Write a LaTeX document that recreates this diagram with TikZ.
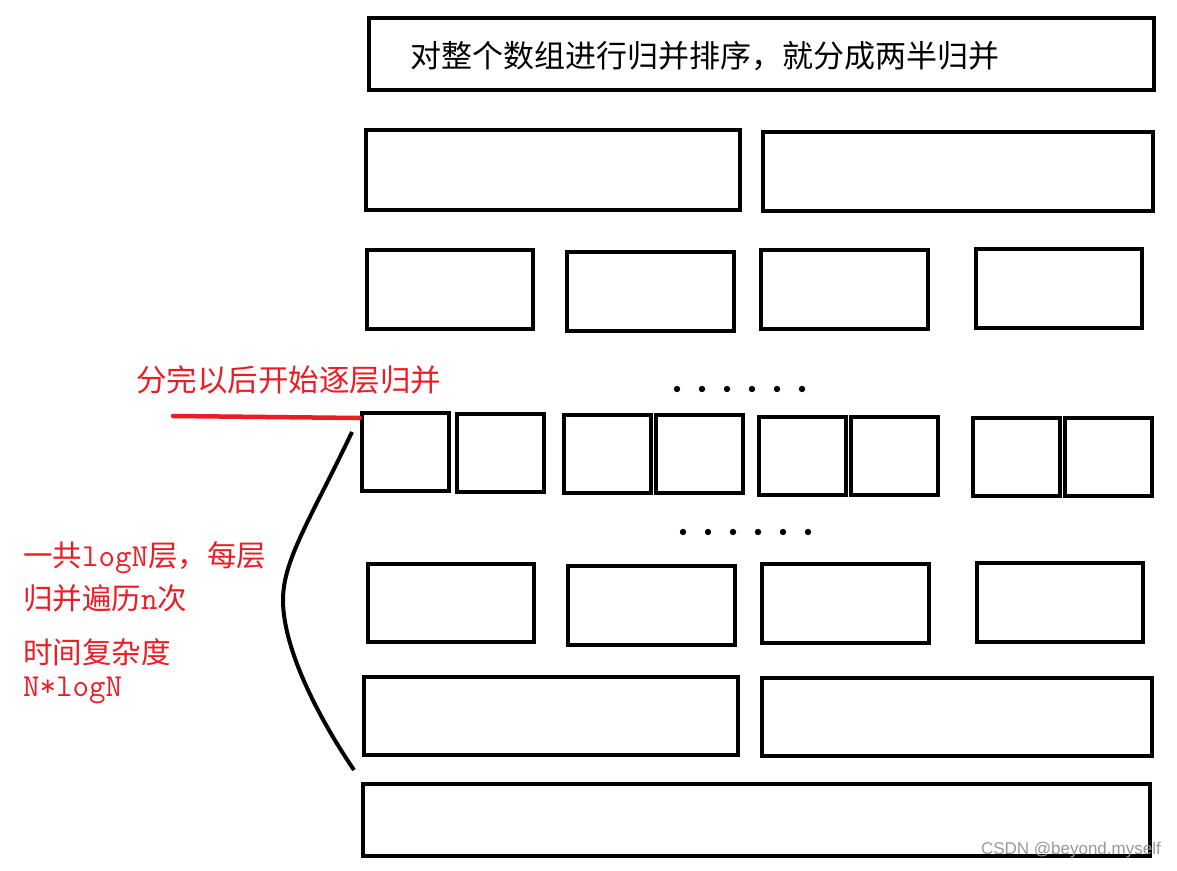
\documentclass[tikz,border=0pt]{standalone}
\usepackage{fontspec}
\newfontfamily\cjk{Noto Sans CJK SC}
\newfontfamily\markfont{Liberation Sans}
\usetikzlibrary{fit}
\definecolor{paintred}{RGB}{237,28,36}
\newcommand{\latmono}{\ttfamily\fontsize{32}{36}\selectfont}

\tikzset{
  box/.style={draw=black, line width=4pt, inner sep=0pt},
  note/.style={text=paintred, anchor=west, inner sep=0pt, font=\cjk\fontsize{29.5}{34}\selectfont},
}

\begin{document}
\begin{tikzpicture}[x=1pt,y=-1pt]
                \useasboundingbox[fill=white] (0,0) rectangle (1177,870);
                % whole array
                \node[box, fit={(369,18) (1154,90)}] (all) {};
                \node[anchor=west, inner sep=0pt, font=\cjk\fontsize{31}{36}\selectfont]
                    (title) at (410,56) {对整个数组进行归并排序，就分成两半归并};
                % halves
                \node[box, fit={(366,130) (740,210)}] (h1) {};
                \node[box, fit={(763,132) (1153,211)}] (h2) {};
                % quarters
                \node[box, fit={(367,250) (533,329)}] (q1) {};
                \node[box, fit={(567,252) (734,331)}] (q2) {};
                \node[box, fit={(761,250) (928,329)}] (q3) {};
                \node[box, fit={(976,249) (1142,328)}] (q4) {};
                % single cells
                \node[box, fit={(362,413) (449,491)}] (s1) {};
                \node[box, fit={(457,414) (544,492)}] (s2) {};
                \node[box, fit={(564,415) (651,493)}] (s3) {};
                \node[box, fit={(656,415) (743,493)}] (s4) {};
                \node[box, fit={(759,417) (846,495)}] (s5) {};
                \node[box, fit={(851,417) (938,495)}] (s6) {};
                \node[box, fit={(973,418) (1060,496)}] (s7) {};
                \node[box, fit={(1065,418) (1152,496)}] (s8) {};
                % merged quarters
                \node[box, fit={(368,564) (534,642)}] (m1) {};
                \node[box, fit={(568,566) (735,645)}] (m2) {};
                \node[box, fit={(762,564) (929,643)}] (m3) {};
                \node[box, fit={(977,563) (1143,642)}] (m4) {};
                % merged halves
                \node[box, fit={(364,677) (738,755)}] (n1) {};
                \node[box, fit={(762,678) (1152,756)}] (n2) {};
                % sorted array
                \node[box, fit={(363,784) (1150,856)}] (done) {};
                % dots
                \foreach \i in {0,...,5} {
                    \fill (677+25*\i,389) circle (3.2);
                    \fill (683+25*\i,532) circle (3.2);
                }
                % red remark
                \node[note, font=\cjk\fontsize{30.5}{34}\selectfont] (split) at (136,380) {分完以后开始逐层归并};
                \coordinate (rs) at (173,416);
                \draw[paintred, line width=4.5pt, line cap=round] (rs) -- ([yshift=-7pt]s1.north west);
                % levels brace
                \coordinate (ctop) at (352,432);
                \coordinate (cbot) at (354,770);
                \draw[line width=4pt] (ctop) .. controls (310,520) and (283,560) .. (283,600)
                    .. controls (283,650) and (320,720) .. (cbot);
                \node[note] (lv1) at (23,558) {一共{\latmono logN}层，每层};
                \node[note] (lv2) at (23,598) {归并遍历{\latmono n}次};
                \node[note] (cx1) at (23,652) {时间复杂度};
                \node[note, font=\latmono] (cx2) at (23,690) {N*logN};
                % watermark
                \node[anchor=east, inner sep=0pt, text=black!40, font=\markfont\fontsize{17}{20}\selectfont]
                    (wm) at (1161,850) {CSDN @beyond.myself};
\end{tikzpicture}
\end{document}
